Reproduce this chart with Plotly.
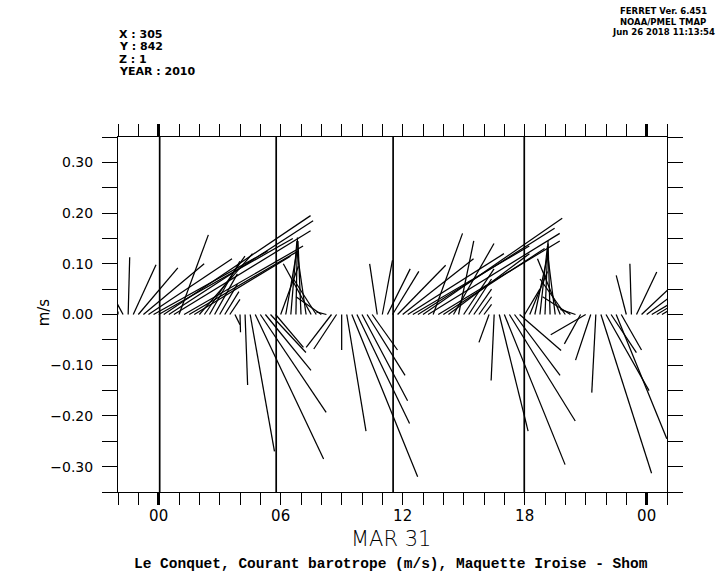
import plotly.graph_objects as go

# ---------------- canvas / frame ----------------
W, H = 719, 574
M_L, M_R, M_T, M_B = 117.7, 52.3, 137.3, 82.3

x_range = [-2.0, 25.0]      # hours relative to MAR 31 00:00
y_range = [-0.35, 0.35]     # m/s

# ---------------- data ----------------
t_start = -2.0
t_step = 0.25  # hours between sticks

u_vals = [
    0.000, -0.012, 0.003, 0.045, 0.078, 0.120, 0.165, 0.225,
    0.265, 0.290, 0.285, 0.270, 0.058, 0.235, 0.215, 0.190,
    0.105, 0.080, 0.060, 0.045, 0.035, 0.028, 0.020, 0.010,
    0.001, 0.005, 0.048, 0.135, 0.130, 0.090, 0.070, 0.055,
    0.035, 0.022, 0.012, 0.003, -0.006, -0.018, -0.055, -0.045,
    -0.050, -0.020, -0.050, -0.045, 0.000, 0.038, 0.130, 0.104,
    0.090, 0.075, 0.050, -0.015,
    0.020, 0.045, 0.052, 0.095, 0.140, 0.190, 0.230, 0.270,
    0.275, 0.260, 0.058, 0.240, 0.200, 0.160, 0.080, 0.030,
    0.060, 0.045, 0.035, 0.025, 0.015, -0.020, -0.006, 0.057,
    0.120, 0.130, 0.090, 0.082, 0.030, 0.035, 0.025, 0.015,
    0.006, -0.004, -0.015, -0.045, -0.050, -0.055, -0.030, -0.032,
    -0.069, -0.030, -0.008, 0.100, 0.085, 0.050, 0.100, 0.040,
    -0.020, -0.003, 0.040, 0.080, 0.120, 0.170, 0.200, 0.240,
    0.260,
]
v_vals = [
    0.006, 0.022, 0.113, 0.098, 0.092, 0.100, 0.110, 0.125,
    0.150, 0.195, 0.185, 0.165, 0.157, 0.135, 0.125, 0.115,
    0.120, 0.115, 0.105, 0.080, 0.060, 0.045, 0.030, -0.020,
    -0.035, -0.139, -0.270, -0.285, -0.193, -0.110, -0.075, -0.065,
    0.095, 0.125, 0.145, 0.152, 0.145, 0.125, 0.100, 0.070,
    0.035, 0.005, -0.065, -0.068, -0.070, -0.230, -0.320, -0.215,
    -0.170, -0.120, -0.070, 0.100,
    0.107, 0.090, 0.085, 0.097, 0.110, 0.120, 0.135, 0.170,
    0.190, 0.160, 0.160, 0.145, 0.130, 0.120, 0.140, 0.145,
    0.090, 0.070, 0.050, 0.035, 0.020, -0.055, -0.130, -0.230,
    -0.296, -0.210, -0.120, -0.071, 0.050, 0.085, 0.115, 0.135,
    0.145, 0.140, 0.120, 0.110, 0.070, 0.035, 0.010, -0.058,
    -0.040, -0.090, -0.154, -0.313, -0.150, -0.075, -0.245, -0.070,
    0.077, 0.100, 0.084, 0.075, 0.090, 0.100, 0.120, 0.140,
    0.160,
]
times = [t_start + t_step * i for i in range(len(u_vals))]

event_hours = [0.05, 5.78, 11.53, 17.98]   # full-height vertical markers

hour_ticks = list(range(-2, 26))
hour_labels = {0: "00", 6: "06", 12: "12", 18: "18", 24: "00"}
major_hours = [0, 24]

y_tick_vals = [-0.35, -0.30, -0.25, -0.20, -0.15, -0.10, -0.05, 0.0,
               0.05, 0.10, 0.15, 0.20, 0.25, 0.30, 0.35]
y_tick_text = ["", "\u22120.30", "", "\u22120.20", "", "\u22120.10", "", "0.00",
               "", "0.10", "", "0.20", "", "0.30", ""]

header_left = ["X : 305", "Y : 842", "Z : 1", "YEAR : 2010"]
header_right = ["FERRET Ver. 6.451", "NOAA/PMEL TMAP", "Jun 26 2018 11:13:54"]
x_title = "MAR 31"
y_title = "m/s"
main_title = "Le Conquet, Courant barotrope (m/s), Maquette Iroise - Shom"

# ---------------- geometry helpers ----------------
plot_w = W - M_L - M_R
plot_h = H - M_T - M_B
# hours of x-axis equivalent to 1 m/s on y-axis (isotropic sticks)
k = (plot_h / (y_range[1] - y_range[0])) / (plot_w / (x_range[1] - x_range[0]))


def pp(px, py):
    return (px - M_L) / plot_w, (H - M_B - py) / plot_h


xs, ys = [], []
for t, u, v in zip(times, u_vals, v_vals):
    xs += [t, t + u * k, None]
    ys += [0.0, v, None]

vx, vy = [], []
for e in event_hours:
    vx += [e, e, None]
    vy += [y_range[0], y_range[1], None]

fig = go.Figure()
fig.add_trace(go.Scatter(x=xs, y=ys, mode="lines",
                         line=dict(color="black", width=1.25),
                         hoverinfo="skip", showlegend=False))
fig.add_trace(go.Scatter(x=vx, y=vy, mode="lines",
                         line=dict(color="black", width=1.7),
                         hoverinfo="skip", showlegend=False))
fig.add_trace(go.Scatter(x=[0], y=[0], xaxis="x2", mode="markers",
                         marker=dict(opacity=0), hoverinfo="skip",
                         showlegend=False))

tick_font = dict(family="DejaVu Sans", size=14, color="black")

fig.update_layout(
    width=W, height=H,
    margin=dict(l=M_L, r=M_R, t=M_T, b=M_B, pad=0),
    paper_bgcolor="white", plot_bgcolor="white",
    showlegend=False,
    xaxis=dict(range=x_range, tickmode="array", tickvals=hour_ticks,
               ticktext=[hour_labels.get(h, "") for h in hour_ticks],
               ticks="outside", ticklen=12, tickwidth=1, tickcolor="black",
               mirror="allticks", showline=True, linecolor="black", linewidth=1,
               showgrid=False, zeroline=False,
               tickfont=dict(family="DejaVu Sans", size=15, color="black"),
               ticklabelstandoff=-2),
    xaxis2=dict(range=x_range, overlaying="x", tickmode="array",
                tickvals=major_hours, ticks="outside", ticklen=12, tickwidth=3,
                tickcolor="black", mirror="allticks", showticklabels=False,
                showline=False, showgrid=False, zeroline=False, side="bottom",
                anchor="y"),
    yaxis=dict(range=y_range, tickmode="array", tickvals=y_tick_vals,
               ticktext=y_tick_text, ticks="outside", ticklen=15, tickwidth=1,
               tickcolor="black", mirror="allticks", showline=True,
               linecolor="black", linewidth=1, showgrid=False, zeroline=False,
               tickfont=tick_font, ticklabelstandoff=6),
)

ann = []
hx, hy0, hdy = 117, 34.5, 12.6
for i, s in enumerate(header_left):
    x, y = pp(hx, hy0 + i * hdy)
    ann.append(dict(text="<b>" + s + "</b>", x=x, y=y, xref="paper",
                    yref="paper", xanchor="left", yanchor="middle",
                    showarrow=False,
                    font=dict(family="DejaVu Sans", size=11, color="black")))
rx, ry0, rdy = 663, 12, 10
for i, s in enumerate(header_right):
    x, y = pp(rx, ry0 + i * rdy)
    ann.append(dict(text="<b>" + s + "</b>", x=x, y=y, xref="paper", yref="paper",
                    xanchor="center", yanchor="middle", showarrow=False,
                    font=dict(family="DejaVu Sans", size=8.5, color="black")))
x, y = pp(391, 539)
ann.append(dict(text=x_title, x=x, y=y, xref="paper", yref="paper",
                xanchor="center", yanchor="middle", showarrow=False,
                font=dict(family="DejaVu Sans", size=21, color="black",
                          weight=200)))
x, y = pp(391, 564)
ann.append(dict(text="<b>" + main_title + "</b>", x=x, y=y, xref="paper",
                yref="paper", xanchor="center", yanchor="middle",
                showarrow=False,
                font=dict(family="Liberation Mono", size=14.5, color="black")))
x, y = pp(44, 312)
ann.append(dict(text=y_title, x=x, y=y, xref="paper", yref="paper",
                xanchor="center", yanchor="middle", showarrow=False,
                textangle=-90,
                font=dict(family="DejaVu Sans", size=15, color="black")))
fig.update_layout(annotations=ann)

fig.write_html("out.html",
               config={"displayModeBar": False},
               post_script="document.body.style.margin='0px';"
                           "document.body.style.overflow='hidden';")
